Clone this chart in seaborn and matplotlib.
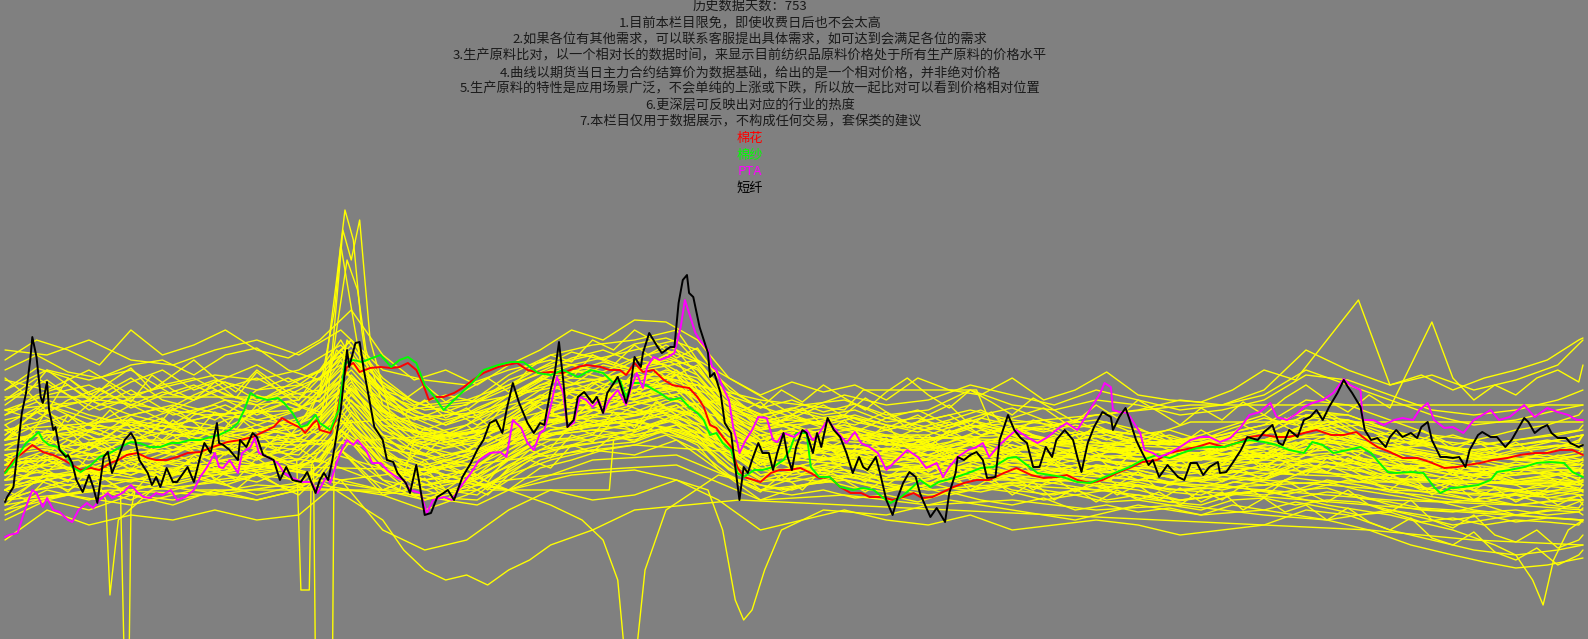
import numpy as np
import pandas as pd
import matplotlib
matplotlib.use("Agg")
import matplotlib.pyplot as plt
import seaborn as sns

sns.set_style("white")
plt.rcParams['font.family'] = ['Noto Sans CJK SC', 'DejaVu Sans']

# ---------------- text ----------------
title_lines = [
    '历史数据天数：753',
    '1.目前本栏目限免，即使收费日后也不会太高',
    '2.如果各位有其他需求，可以联系客服提出具体需求，如可达到会满足各位的需求',
    '3.生产原料比对，以一个相对长的数据时间，来显示目前纺织品原料价格处于所有生产原料的价格水平',
    '4.曲线以期货当日主力合约结算价为数据基础，给出的是一个相对价格，并非绝对价格',
    '5.生产原料的特性是应用场景广泛，不会单纯的上涨或下跌，所以放一起比对可以看到价格相对位置',
    '6.更深层可反映出对应的行业的热度',
    '7.本栏目仅用于数据展示，不构成任何交易，套保类的建议',
]
names = ['棉花', '棉纱', 'PTA', '短纤']
name_colors = ['#ff0000', '#00ff00', '#ff00ff', '#000000']

# ---------------- highlighted series (day index, relative value) ----------------
black_days = [0,1,4,6,8,10,12,13,15,17,18,20,21,23,24,26,29,30,32,34,37,40,42,44,47,49,51,54,57,60,62,64,68,70,72,74,77,80,82,85,87,90,93,95,98,101,102,104,107,111,112,115,118,120,123,128,131,134,137,141,144,148,150,
              152,154,156,160,163,164,167,169,171,173,176,180,182,185,187,191,193,196,198,200,203,206,209,211,214,218,222,225,228,231,234,237,239,242,245,249,252,255,257,260,262,264,266,268,271,273,276,280,282,285,287,292,
              293,296,298,300,303,304,307,311,313,317,319,321,323,325,326,328,331,335,336,338,341,343,346,348,350,352,354,356,359,361,364,366,368,371,373,375,377,380,382,385,387,389,392,395,398,401,404,407,409,411,415,417,420,423,425,428,431,434,436,438,441,444,
              448,450,453,454,457,460,463,466,468,472,474,478,481,484,487,490,493,496,499,501,505,509,511,513,516,519,523,527,528,531,534,536,539,542,545,547,550,554,559,562,565,568,571,574,578,579,582,585,589,592,
              597,600,604,607,609,612,616,619,622,625,628,631,635,638,640,642,646,648,651,654,658,660,663,666,670,673,675,678,680,684,687,690,693,696,698,702,704,708,711,715,718,724,726,729,732,735,737,740,744,746,750,752]
black_vals = [138,143,153,190,227,247,280,303,283,243,237,258,230,210,213,190,183,185,177,160,148,165,153,137,183,188,167,183,200,207,200,180,167,155,163,153,172,158,158,167,173,158,183,197,187,217,197,195,190,180,200,193,207,203,185,180,160,173,160,158,168,147,160,
              167,160,180,230,290,273,297,298,270,247,213,200,180,178,167,157,147,175,150,125,127,143,147,150,140,163,177,190,200,217,220,207,230,257,237,217,207,217,215,250,267,298,260,213,220,243,248,237,243,227,247,263,
              257,237,253,283,273,287,307,293,287,293,293,337,360,365,347,343,313,287,263,267,247,217,207,173,140,173,167,180,197,187,187,170,187,207,183,170,193,210,207,187,207,193,222,210,203,187,167,183,173,170,183,167,140,125,140,157,168,163,147,137,123,132,
              118,147,167,183,180,185,188,180,162,163,200,225,210,202,197,173,173,193,183,200,210,200,183,168,197,213,228,223,210,223,232,220,200,187,175,180,163,175,163,160,177,177,165,173,178,167,168,177,190,203,
              200,208,215,197,195,210,203,220,223,230,220,233,247,260,253,247,233,210,200,202,193,203,210,203,207,202,213,218,200,183,183,182,183,173,190,205,208,203,203,193,200,222,218,207,212,215,207,202,202,197,193,195]

red_days = [0,4,9,13,18,23,28,32,36,41,45,50,54,58,63,68,72,77,82,87,93,99,106,112,118,123,128,132,136,141,143,147,149,
            150,155,158,161,163,166,169,174,179,184,188,192,196,199,202,205,209,214,218,223,228,235,239,244,249,255,260,266,273,277,284,288,
            293,296,300,304,309,314,318,323,326,330,333,336,339,342,346,349,352,357,360,365,369,374,379,384,388,393,398,403,408,412,418,423,428,433,437,442,
            446,452,457,463,469,476,482,489,495,501,506,511,517,523,530,536,542,549,555,561,568,574,581,587,593,
            600,606,612,619,625,632,638,644,649,654,660,666,673,679,686,692,697,703,709,716,722,729,735,741,747,752]
red_vals = [168,180,188,195,188,185,180,175,170,172,170,177,180,185,187,182,180,180,183,187,188,193,198,200,203,208,213,222,217,212,207,217,220,
            210,207,223,260,273,277,268,272,273,272,273,277,270,257,240,243,243,247,252,260,267,273,275,277,270,267,268,267,273,275,273,270,
            270,265,277,268,270,260,255,253,252,243,233,215,212,203,193,173,163,160,158,167,170,170,172,167,162,163,153,147,147,143,143,140,143,147,142,143,
            147,153,157,160,160,167,172,165,162,163,165,160,157,160,167,172,178,180,187,190,193,197,193,197,203,
            205,203,203,207,210,205,205,208,200,193,188,182,182,178,172,173,175,177,180,182,185,187,187,190,190,185]

green_days = [0,4,7,10,13,16,18,21,25,30,32,36,41,45,50,55,60,64,69,74,79,83,88,93,98,102,107,111,114,117,120,125,130,133,137,141,144,148,150,
              155,159,162,166,170,175,179,184,188,192,196,200,204,209,214,218,223,228,235,241,247,254,260,266,273,279,285,290,
              293,296,299,303,307,312,317,322,326,330,333,336,339,342,346,349,352,357,361,366,371,374,377,382,384,388,393,398,404,409,414,418,422,427,431,436,441,445,
              452,459,465,471,478,482,487,492,498,504,511,517,523,530,536,542,549,555,561,568,574,581,587,593,
              600,606,612,619,623,628,633,640,646,651,655,659,663,670,676,681,684,689,695,702,708,711,717,724,730,736,743,747,752]
green_vals = [167,177,187,197,202,208,200,195,193,183,173,168,175,183,187,193,198,197,193,193,197,197,200,200,203,205,210,217,230,247,243,240,242,237,227,213,215,225,217,
              210,230,277,280,278,282,285,273,280,283,277,255,245,230,240,248,258,270,275,278,278,267,265,270,263,270,267,257,
              260,243,257,257,253,247,240,242,233,227,220,205,207,197,190,167,163,170,170,173,180,190,207,207,173,163,163,153,150,152,150,143,137,143,150,160,153,158,
              162,167,172,173,182,183,175,167,165,163,158,157,162,168,173,180,185,182,187,192,193,193,197,200,
              198,195,190,187,198,195,187,190,193,187,177,168,167,168,167,153,147,152,153,155,160,168,170,173,177,178,177,168,163]

pta_days = [0,2,6,9,13,15,18,20,23,26,30,32,35,39,42,45,49,51,56,60,63,66,69,72,75,79,82,86,90,93,96,100,102,104,107,111,113,117,119,121,125,130,133,137,142,146,149,
            153,155,158,161,163,166,168,172,175,179,182,187,190,193,198,201,204,209,213,217,222,226,231,236,239,242,246,249,252,255,257,260,263,266,268,271,274,277,280,283,285,288,292,
            296,298,301,304,306,309,312,316,319,322,324,326,329,331,335,337,339,342,345,347,349,350,353,356,359,363,366,368,371,376,379,382,385,388,392,397,401,405,408,412,416,420,425,430,435,439,
            444,447,450,454,459,463,466,469,473,478,482,487,492,497,501,506,511,514,519,522,524,527,528,531,535,538,541,543,547,550,555,560,565,570,574,579,584,589,593,
            598,603,606,611,616,619,623,628,633,638,641,646,647,652,657,662,666,671,674,678,681,686,690,695,700,704,708,712,717,724,729,735,740,745,749,752]
pta_vals = [103,105,107,127,150,147,133,142,130,128,120,118,130,137,132,140,147,142,147,155,148,143,142,147,145,150,140,143,150,163,172,187,173,172,180,167,187,193,202,187,183,177,167,162,158,158,147,
            163,157,177,193,200,195,200,190,177,177,170,162,160,150,147,127,140,143,140,153,167,180,187,188,183,220,212,197,190,207,210,233,263,247,213,217,243,240,233,240,227,240,250,
            235,250,267,252,273,283,280,283,287,313,340,327,307,300,290,273,270,253,240,213,197,187,200,210,223,222,200,198,207,203,208,210,200,207,220,207,197,208,197,193,187,170,180,190,183,172,
            177,163,173,183,190,193,197,183,193,203,210,203,197,203,210,217,210,220,237,247,257,253,230,228,227,217,207,190,187,183,187,193,200,203,203,198,202,213,225,
            228,237,223,220,227,233,237,240,247,261,255,250,220,220,215,220,222,220,230,237,220,212,213,207,220,225,230,220,223,235,223,232,228,225,220,220]

# ---------------- other raw materials (yellow) ----------------
grid20_days = [0,20,40,60,80,100,120,140,160,180,200,220,240,260,280,300,320,340,360,380,
               400,420,440,460,480,500,520,540,560,580,600,620,640,660,680,700,720,740,752]
yellow_grid20 = {
    'A': [290,285,300,280,275,290,300,285,310,270,260,255,270,280,270,255,265,230,210,220,225,215,210,220,205,200,210,205,195,200,210,230,225,210,195,185,180,190,195],
    'B': [130,150,140,155,150,160,165,160,190,150,140,150,175,195,205,200,215,190,170,185,195,190,200,215,210,215,225,230,240,235,250,290,270,255,265,250,260,275,300],
    'C': [200,240,225,215,230,250,235,240,300,230,210,205,240,265,250,270,280,220,190,205,215,200,185,200,215,195,205,190,180,195,185,210,220,200,180,175,170,185,180],
    'D': [170,210,190,220,205,200,230,215,280,200,185,200,225,250,260,245,270,225,195,180,200,210,195,180,190,205,185,195,200,185,195,215,200,190,170,160,155,165,170],
    'E': [240,260,230,250,225,235,215,230,260,210,195,215,245,255,235,260,250,210,175,200,190,175,190,205,180,185,200,180,170,165,175,190,205,180,175,165,175,180,175],
    'F': [150,180,165,180,170,190,180,200,240,180,170,175,200,230,245,240,265,200,165,175,185,170,175,190,175,170,180,175,165,170,180,195,185,175,160,150,140,150,160],
    'G': [185,195,210,195,185,205,190,185,230,175,165,180,195,215,225,235,245,215,185,195,180,165,170,185,170,160,175,170,160,165,160,180,185,170,160,155,160,165,155],
    'H': [220,230,240,225,235,220,245,230,270,240,220,230,260,275,285,270,290,240,200,215,225,210,220,230,220,215,220,210,200,205,215,240,235,220,205,200,190,200,205],
    'I': [160,170,175,165,180,170,185,175,210,160,150,160,180,200,200,210,220,190,160,170,175,180,165,175,160,170,165,160,155,150,160,175,170,165,150,140,135,140,145],
    'J': [210,220,200,205,190,210,200,220,250,205,195,200,220,240,230,225,235,205,175,190,205,195,195,215,200,195,195,190,185,190,200,215,205,195,185,180,190,195,190],
    'K': [120,140,130,145,135,150,140,150,190,145,130,145,165,180,190,185,200,170,140,155,160,150,155,165,150,145,155,150,140,145,150,170,165,150,140,130,125,130,140],
    'L': [260,250,270,245,255,265,260,270,295,250,235,240,255,270,280,290,300,255,220,235,240,225,230,250,235,230,240,235,225,230,240,265,260,245,230,225,230,240,250],
    'M': [175,190,180,190,200,185,195,190,225,185,175,185,205,225,215,220,230,200,170,185,180,175,180,195,180,175,185,180,175,175,180,200,195,185,175,165,170,175,180],
    'N': [195,200,185,200,210,195,205,200,240,195,180,190,210,230,240,250,255,215,185,200,190,185,185,200,195,185,195,185,180,185,190,205,200,190,180,170,175,180,185],
    'O': [140,165,155,170,160,175,165,175,210,170,160,170,190,210,215,210,225,195,165,170,180,170,170,185,170,165,175,170,160,160,170,185,180,170,160,150,150,155,160],
    'P': [230,245,255,235,215,225,230,250,275,225,210,225,245,265,270,255,265,230,195,210,215,205,205,220,210,200,210,205,195,200,205,225,225,210,195,190,195,200,205],
    'Q': [100,130,115,125,120,130,120,125,160,110,90,100,130,150,140,145,160,140,110,120,130,120,115,125,110,115,120,115,105,110,115,130,125,110,100,90,85,90,95],
    'R': [250,270,260,270,245,260,250,255,285,245,230,235,265,285,295,300,310,250,210,230,245,235,240,255,245,235,250,240,230,235,245,270,255,240,225,215,220,230,235],
    'S': [165,175,195,185,195,180,170,190,220,175,160,165,185,205,210,205,215,185,150,165,170,160,160,175,165,160,170,165,155,155,165,180,175,160,150,145,145,150,150],
    'T': [205,235,215,225,215,225,220,215,255,215,205,215,235,245,250,240,255,225,195,205,205,200,200,215,205,200,210,200,195,195,205,225,220,205,195,190,195,200,205],
    'U': [180,205,205,175,190,200,210,205,250,185,170,180,200,220,230,225,240,205,180,190,195,190,190,200,185,180,190,185,185,180,185,200,195,185,175,165,165,170,170],
    'V': [155,160,150,160,165,170,175,180,220,170,155,160,180,210,220,215,235,205,175,180,175,165,165,180,175,180,190,200,195,190,200,215,220,210,200,195,200,205,210],
}

grid15_days = [0,15,30,45,60,75,90,105,120,135,150,165,180,195,210,225,240,255,270,285,300,315,330,345,360,375,
               390,405,420,435,450,465,480,495,510,525,540,555,570,585,600,615,630,645,660,675,690,705,720,735,750,752]
yellow_grid15 = {
    'Y01': [250,272,262,240,258,270,250,262,275,258,268,300,262, 238,228,240,255,272,288,280,296,302,290,250,232,240,
            228,236,222,230,215,225,232,220,212,218,205,210,200, 212,222,215,228,210,205,198,205,195,200,205,210,215],
    'Y02': [225,245,255,235,240,228,245,258,240,250,238,280,250, 230,215,225,240,262,255,275,268,285,270,235,218,225,
            215,222,210,218,225,205,212,200,208,195,202,190,198, 205,198,210,215,200,192,188,182,190,180,185,178,182],
    'Y03': [160,185,170,178,190,175,185,195,182,190,200,240,205, 180,170,165,190,210,225,215,235,245,235,205,188,180,
            192,182,175,185,170,180,172,165,175,160,168,155,160, 170,162,175,168,158,165,150,158,145,150,142,148,150],
    'Y04': [200,215,225,210,198,215,205,220,230,212,225,265,232, 205,195,200,215,235,248,240,255,262,250,220,200,208,
            198,205,195,200,190,198,205,190,185,192,180,185,175, 185,192,180,195,188,175,170,165,172,160,165,170,168],
    'Y05': [140,150,155,162,158,170,165,175,168,172,180,215,185, 165,150,145,170,190,195,205,210,220,212,180,162,158,
            165,158,150,160,152,148,155,145,150,140,145,138,135, 145,150,142,148,145,135,130,128,135,125,130,128,125],
    'Y06': [215,232,218,245,262,240,232,225,250,262,245,275,240, 220,232,215,230,250,270,262,280,275,258,228,212,222,
            235,218,212,225,205,215,222,232,210,200,212,198,205, 215,225,208,212,198,190,195,185,180,188,192,198,205],
    'Y07': [180,198,190,185,205,195,210,200,192,205,195,235,200, 190,180,175,195,215,210,230,238,232,225,195,178,185,
            180,190,178,172,185,175,168,180,165,172,160,165,158, 168,175,165,178,170,158,162,150,155,148,158,152,148],
    'Y08': [270,285,268,262,275,280,265,285,292,270,260,295,255, 235,245,238,252,268,282,290,278,295,280,242,225,230,
            222,215,228,212,220,230,215,210,220,205,198,205,195, 205,210,225,220,205,198,210,195,202,210,215,225,230],
    'Y09': [125,140,145,150,140,155,162,155,165,150,160,200,170, 145,140,135,150,172,180,190,195,205,190,165,150,145,
            150,142,145,138,148,140,135,142,130,135,128,132,125, 135,130,138,132,125,128,118,122,115,120,118,115,120],
    'Y10': [190,210,205,222,215,200,225,235,220,228,240,270,235, 210,200,210,225,245,240,262,258,270,262,230,210,215,
            205,212,200,195,205,198,190,200,195,188,190,182,185, 195,200,192,205,195,182,178,175,170,178,172,175,178],
    'Y11': [170,160,185,200,182,190,178,205,198,185,215,250,220, 195,185,190,205,225,235,228,245,252,245,210,190,195,
            188,195,185,178,190,182,195,185,178,170,178,170,172, 182,188,178,185,175,168,165,162,168,158,162,158,160],
    'Y12': [230,220,240,252,232,245,255,240,235,250,262,290,245, 225,215,232,245,262,275,268,282,290,278,240,225,232,
            225,230,218,222,212,222,215,208,215,210,205,198,200, 208,215,220,212,215,200,195,192,185,195,200,195,190],
    'Y13': [150,170,160,175,185,165,180,188,175,182,178,225,192, 170,158,162,182,200,212,220,225,232,222,192,172,170,
            175,168,162,170,158,165,160,155,162,150,155,148,145, 158,155,162,158,150,145,140,138,142,135,138,140,135],
    'Y14': [210,195,215,205,225,232,218,212,228,238,228,258,225, 200,192,198,218,238,232,250,262,262,255,222,205,200,
            210,200,205,192,198,210,202,195,188,195,185,190,182, 192,185,198,190,182,178,170,175,168,172,178,170,175],
    'Y15': [175,180,200,192,170,182,195,185,205,198,210,245,212, 188,178,172,200,222,218,235,228,240,235,200,182,190,
            182,175,190,182,175,168,182,172,165,175,165,158,162, 175,170,165,175,162,158,152,148,155,150,145,150,155],
    'Y16': [280,300,290,275,310,285,295,310,290,282,300,330,285, 260,270,255,275,290,310,300,320,318,300,262,245,258,
            248,255,240,262,250,245,262,240,250,268,245,240,238, 250,270,260,300,340,255,265,250,262,270,280,300,302],
    'Y17': [195,205,182,195,210,222,198,192,210,220,205,255,215, 195,205,185,202,225,222,245,250,255,245,212,195,205,
            195,188,198,205,182,192,188,198,182,180,188,178,180, 188,182,190,195,180,172,175,168,162,165,168,162,165],
    'Y18': [165,175,172,165,178,160,172,168,190,178,188,228,198, 178,165,155,180,200,202,210,218,225,215,188,170,165,
            170,178,165,158,168,160,165,170,158,152,158,150,152, 162,158,150,160,155,148,145,140,138,145,135,132,138],
    'Y19': [240,262,245,230,242,255,262,245,238,255,270,300,258, 238,228,222,238,255,268,278,270,282,272,235,215,215,
            218,225,215,208,218,205,212,220,205,208,200,195,202, 200,208,205,218,205,195,200,190,182,185,182,188,192],
    'Y20': [150,162,168,172,165,178,170,180,175,168,182,220,188, 160,148,150,168,185,195,198,205,212,200,172,158,162,
            158,165,155,150,160,152,158,150,145,150,142,138,142, 148,145,150,152,142,138,132,130,128,130,125,128,132],
    'Y21': [205,228,212,200,218,210,228,240,225,238,225,262,228, 208,198,205,222,240,252,248,262,268,258,225,205,210,
            200,208,198,212,202,195,205,192,198,188,192,185,182, 195,192,188,200,192,182,180,172,178,170,175,172,170],
    'Y22': [185,172,195,215,205,218,212,205,215,205,218,252,222, 195,188,180,205,228,240,232,250,258,248,215,198,190,
            192,185,192,188,178,188,180,175,188,178,172,178,168, 178,185,175,182,178,165,168,160,165,158,160,155,158],
    'Y23': [225,238,228,218,235,248,240,252,262,245,250,285,250, 228,220,228,238,255,262,260,272,280,265,230,218,220,
            215,208,222,215,208,215,208,212,200,205,195,200,192, 205,210,202,208,200,188,185,180,188,182,178,185,188],
    'Y24': [135,160,150,165,172,162,175,165,158,170,165,212,178, 155,142,140,160,180,188,195,198,210,198,170,155,150,
            160,152,148,155,145,152,148,140,145,138,140,135,130, 140,142,135,140,138,130,125,120,125,118,122,120,118],
}

grid10_days = [0,10,20,30,40,50,60,70,80,90,100,110,120,130,140,150,160,170,180,190,200,210,220,230,240,250,
               260,270,280,290,300,310,320,330,340,350,360,370,380,390,400,410,420,430,440,450,460,470,480,490,500,
               510,520,530,540,550,560,570,580,590,600,610,620,630,640,650,660,670,680,690,700,710,720,730,740,750,752]
yellow_grid10 = {
    'W1': [200,215,195,225,208,230,212,198,220,205,228, 210,235,218,200,222,245,232,205,190,212,198,
           188,205,220,238,225,250,242,262,248,270,255, 240,215,198,205,188,210,195,182,200,215,192,
           205,185,198,210,192,180,196,205,188,175,190, 182,170,188,176,192,180,195,185,202,190,178,
           185,170,180,165,178,160,172,168,158,170,165],
    'W2': [165,180,170,158,185,172,190,178,168,182,160, 175,192,180,170,188,210,196,178,165,180,160,
           172,158,185,200,192,215,205,228,212,238,225, 210,190,172,160,178,165,185,170,158,175,190,
           168,180,160,175,188,165,178,158,170,155,168, 150,162,175,158,170,160,178,165,182,172,160,
           150,165,145,158,140,152,138,148,135,145,140],
    'W3': [235,250,228,262,245,255,238,265,250,240,258, 242,268,250,235,255,285,268,245,225,240,222,
           232,215,240,255,270,262,285,275,295,280,265, 275,245,228,238,218,232,215,225,242,228,212,
           225,235,215,228,205,220,212,198,215,205,192, 208,195,210,198,215,205,222,210,225,212,200,
           208,195,205,190,200,188,198,185,192,200,205],
    'W4': [150,140,162,148,170,158,145,168,155,175,162, 150,168,155,145,165,190,175,160,148,162,140,
           155,145,165,180,172,195,188,205,198,215,205, 195,170,158,148,165,150,172,160,148,162,175,
           155,168,150,162,145,158,140,152,138,150,140, 148,135,150,140,155,142,160,148,138,150,135,
           128,140,120,112,125,105,98,110,92,100,105],
    'W5': [215,198,230,210,190,205,222,208,232,218,200, 225,208,190,215,232,260,240,215,200,185,205,
           215,198,210,232,248,238,258,245,268,260,240, 228,200,185,195,210,190,205,220,200,188,205,
           192,210,198,185,200,190,175,192,180,198,188, 175,190,180,195,185,170,188,200,190,178,192,
           180,168,182,175,160,172,165,178,170,160,168],
    'W6': [180,168,185,172,160,178,190,175,165,185,172, 160,182,168,155,175,205,188,170,158,172,150,
           165,150,172,190,182,205,198,220,208,232,218, 205,178,165,178,160,175,162,180,170,155,168,
           178,160,172,158,165,150,162,148,160,145,155, 140,152,138,148,130,142,128,135,120,132,118,
           110,122,102,95,108,88,80,92,75,85,90],
    'W7': [262,245,270,255,240,258,272,250,265,280,262, 248,270,255,240,262,290,275,258,240,255,238,
           250,262,248,272,285,278,300,290,310,298,282, 292,262,245,232,250,238,255,242,230,248,262,
           245,232,250,238,225,242,230,218,235,222,240, 228,215,232,220,238,225,242,255,240,228,245,
           232,275,318,262,240,255,245,262,270,258,275],
    'W8': [175,190,205,185,198,182,170,192,205,188,178, 195,182,205,192,178,220,205,190,175,195,182,
           190,205,195,212,228,218,242,232,250,240,225, 232,205,182,192,205,185,198,178,190,202,185,
           195,178,190,172,185,198,180,170,185,165,178, 168,180,165,175,190,172,185,178,168,182,170,
           162,175,158,168,150,162,155,145,158,150,148],
}

yellow_special = {
    'SP1': ([0,40,80,120,145,152,158,162,166,170,175,190,230,280,330,380,440,500,560,620,680,720,752],
            [200,215,205,210,225,260,360,430,400,310,240,210,200,230,250,210,190,185,180,185,195,180,175]),
    'SP2': ([0,50,100,140,150,156,161,165,169,174,185,230,290,340,400,470,540,610,680,752],
            [185,200,195,205,215,290,410,380,420,300,215,190,220,240,190,180,185,175,170,165]),
    'SP3': ([0,60,110,145,153,158,163,168,172,180,220,260,320,390,460,530,600,660,720,752],
            [210,220,200,215,235,310,380,350,290,235,200,225,250,200,190,190,185,195,175,180]),
    'SP4': ([0,45,95,140,150,157,160,164,170,178,210,270,330,400,480,560,640,700,752],
            [230,240,225,230,250,330,395,345,270,230,205,235,255,205,200,195,205,190,195]),
    'D1': ([0,30,44,48,50,54,70,110,150,200,260,320,380,440,500,560,620,680,752],
           [150,165,160,140,45,120,150,160,180,140,190,210,170,150,160,150,140,130,120]),
    'D2': ([0,35,55,57,59,60,62,90,130,180,240,300,360,420,480,540,600,660,720,752],
           [170,180,150,-40,-40,130,150,165,175,150,200,215,180,160,170,160,150,140,135,130]),
    'D3': ([0,40,90,130,139,141,145,146,150,190,240,300,360,420,480,540,600,660,720,752],
           [175,185,175,190,180,50,50,175,190,165,200,220,185,170,175,165,160,150,145,140]),
    'D4': ([0,50,100,140,147,148,156,157,163,200,250,310,370,430,490,550,610,670,730,752],
           [160,170,165,175,175,-40,-40,230,300,200,215,230,190,180,185,175,170,160,155,150]),
    'D5': ([0,30,60,90,120,150,180,210,240,260,275,285,292,296,300,305,315,340,370,400,430,460,490,520,550,580,610,640,670,700,730,752],
           [140,160,150,165,145,160,150,175,150,135,120,100,60,-30,-30,70,130,165,150,165,150,170,160,150,165,155,145,160,150,140,150,145]),
    'D6': ([0,30,60,90,120,150,180,210,240,270,300,320,335,342,348,352,356,362,370,390,420,450,480,510,540,570,600,630,660,690,720,752],
           [130,145,135,150,140,155,145,160,150,165,170,160,150,110,40,20,30,70,110,130,125,140,130,120,135,125,130,120,130,115,125,120]),
    'D7': ([0,40,80,120,160,200,240,280,320,360,400,440,480,520,560,600,630,660,690,710,720,728,733,738,745,752],
           [150,170,155,175,160,170,150,180,185,150,160,145,155,150,140,150,135,125,110,95,85,60,35,80,110,120]),
    'D8': ([0,40,80,120,160,200,240,280,320,360,400,440,480,520,560,600,630,650,670,690,705,720,735,752],
           [135,150,140,155,150,145,160,170,175,140,145,135,140,130,135,125,120,110,95,85,78,72,75,82]),
    'D9': ([0,50,100,150,180,190,200,210,220,230,240,250,260,280,300,350,400,450,500,550,600,650,700,752],
           [140,150,145,160,120,90,70,60,65,55,70,80,95,110,130,140,135,130,125,120,115,110,100,95]),
    'H1': ([0,150,158,190,230,280,330,380,430,480,530,580,630,680,730,752],
           [243,243,290,230,240,260,280,220,200,205,195,190,200,185,180,185]),
    'H2': ([0,60,88,188,195,230,290,340,390,440,500,560,620,680,752],
           [170,160,150,150,200,210,240,200,180,185,175,170,165,160,155]),
    'H3': ([0,80,150,200,232,288,290,330,380,430,480,540,600,660,720,752],
           [180,190,200,185,150,150,200,230,195,190,200,185,180,175,170,170]),
    'H4': ([0,60,120,180,240,300,360,400,409,463,470,520,565,752],
           [200,215,210,220,230,270,240,230,250,250,215,225,235,235]),
    'H5': ([0,70,140,210,280,350,420,474,527,540,565,752],
           [190,200,195,205,225,200,185,160,160,200,218,218]),
    'H6': ([0,100,200,300,400,500,560,628,752],
           [160,175,170,195,180,165,150,158,158]),
}

# ---------------- build long tables ----------------
rows = []
for grid, table in [(grid20_days, yellow_grid20), (grid15_days, yellow_grid15), (grid10_days, yellow_grid10)]:
    for key, vals in table.items():
        assert len(vals) == len(grid), (key, len(vals), len(grid))
        rows += [(key, d, v) for d, v in zip(grid, vals)]
for key, (ds, vs) in yellow_special.items():
    assert len(ds) == len(vs), key
    rows += [(key, d, v) for d, v in zip(ds, vs)]
yellow_df = pd.DataFrame(rows, columns=['series', 'day', 'value'])

main_rows = []
for nm, ds, vs in zip(names, [red_days, green_days, pta_days, black_days],
                      [red_vals, green_vals, pta_vals, black_vals]):
    assert len(ds) == len(vs), nm
    main_rows += [(nm, d, v) for d, v in zip(ds, vs)]
main_df = pd.DataFrame(main_rows, columns=['name', 'day', 'value'])

# ---------------- draw ----------------
bg = '#808080'
fig = plt.figure(figsize=(15.88, 6.39), dpi=100)
fig.patch.set_facecolor(bg)
ax = fig.add_axes([0, 0, 1, 1])
ax.set_facecolor(bg)

sns.lineplot(data=yellow_df, x='day', y='value', units='series', estimator=None,
             color='#ffff00', linewidth=1.0, ax=ax, legend=False, sort=False)
sns.lineplot(data=main_df, x='day', y='value', hue='name', hue_order=names,
             palette=dict(zip(names, name_colors)), estimator=None, errorbar=None,
             linewidth=1.4, ax=ax, legend=False, sort=False)

ax.set_xlim(-2.4, 754.4)
ax.set_ylim(1, 640)
ax.set_axis_off()

xc = 750 / 1588
for k, line in enumerate(title_lines):
    fig.text(xc, 1 - (6.5 + 16.5 * k) / 639, line, ha='center', va='center',
             fontsize=9.5, color='#1a1a1a', fontweight='medium')
for j, (nm, c) in enumerate(zip(names, name_colors)):
    k = len(title_lines) + j
    fig.text(xc, 1 - (6.5 + 16.5 * k) / 639, nm, ha='center', va='center',
             fontsize=9.5, color=c, fontweight='medium')

fig.savefig('out.png', dpi=100, facecolor=bg)
